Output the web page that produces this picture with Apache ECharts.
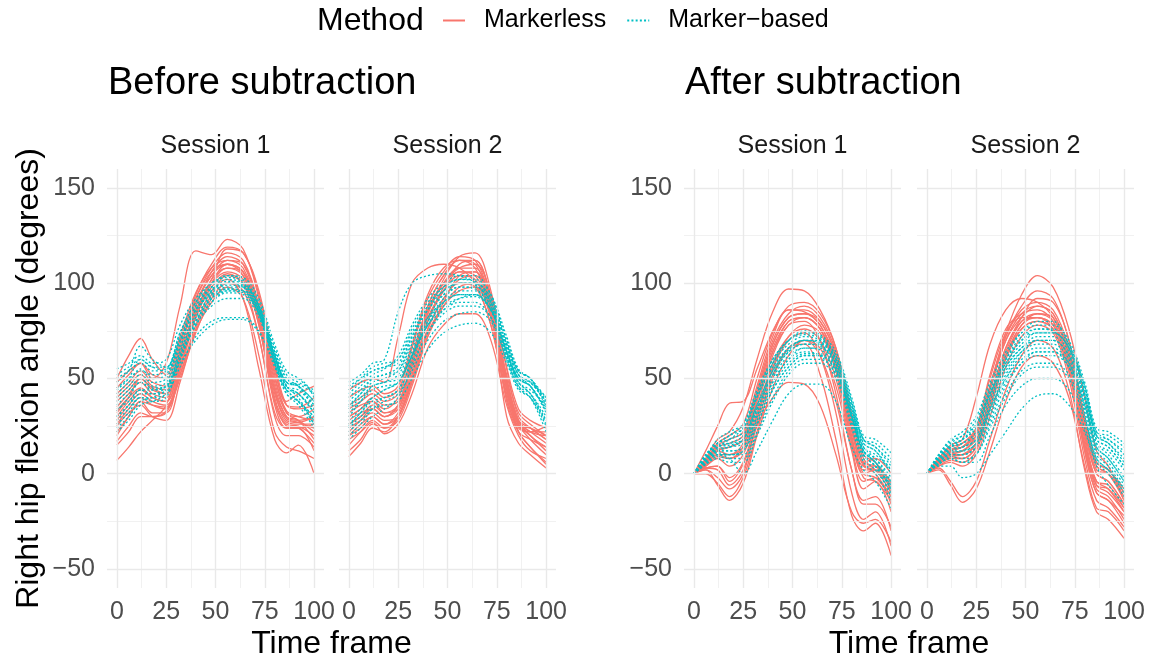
<!DOCTYPE html>
<html><head><meta charset="utf-8">
<script src="https://cdn.jsdelivr.net/npm/echarts@6/dist/echarts.min.js"></script>
<style>html,body{margin:0;padding:0;background:#fff}#c{width:1153px;height:667px}</style>
</head><body><div id="c"></div>
<script>
// ---------- data ----------
const frames = [0, 6, 12, 18, 25, 32, 40, 48, 56, 64, 72, 80, 86, 92, 100];
const xTicks = [0, 25, 50, 75, 100];
const xMinor = [12.5, 37.5, 62.5, 87.5];
const yTicks = [-50, 0, 50, 100, 150];
const yMinor = [-25, 25, 75, 125];
const blockTitles = ['Before subtraction', 'After subtraction'];
const sessions = ['Session 1', 'Session 2'];
const methods = ['Markerless', 'Marker\u2212based'];
const legendTitle = 'Method';
const xTitle = 'Time frame';
const yTitle = 'Right hip flexion angle (degrees)';

const before_s1_markerless = [
  [45, 52, 58, 50, 58, 88, 117, 115, 123, 118, 92, 52, 32, 28, 22],
  [50, 62, 71, 60, 52, 72, 95, 108, 112, 108, 84, 44, 28, 27, 30],
  [7, 14, 22, 28, 36, 60, 85, 100, 106, 102, 78, 38, 25, 24, 16],
  [20, 30, 38, 32, 32, 55, 82, 98, 105, 100, 72, 32, 24, 24, 12],
  [17, 25, 32, 30, 33, 52, 78, 96, 102, 92, 55, 18, 11, 15, 0],
  [30, 38, 44, 40, 38, 60, 88, 104, 110, 106, 82, 40, 27, 26, 26],
  [35, 42, 48, 42, 40, 64, 92, 108, 116, 112, 88, 48, 32, 30, 34],
  [28, 36, 42, 38, 36, 56, 84, 100, 108, 106, 86, 54, 38, 42, 46],
  [25, 32, 36, 30, 28, 48, 76, 94, 104, 100, 80, 44, 30, 28, 18],
  [40, 46, 52, 46, 44, 66, 90, 104, 112, 110, 88, 50, 33, 30, 28],
  [22, 30, 38, 36, 35, 52, 75, 90, 98, 92, 62, 22, 14, 12, 8],
  [32, 40, 50, 45, 42, 62, 86, 102, 118, 116, 94, 56, 36, 35, 40],
  [38, 44, 50, 44, 42, 62, 88, 106, 114, 110, 86, 46, 30, 28, 30],
  [26, 34, 40, 36, 34, 54, 82, 100, 110, 106, 80, 38, 26, 25, 20],
  [42, 48, 54, 48, 46, 68, 94, 110, 119, 116, 96, 58, 36, 34, 36],
  [15, 22, 30, 30, 32, 50, 74, 92, 100, 96, 72, 30, 20, 20, 14],
  [33, 40, 45, 40, 38, 58, 84, 102, 108, 104, 82, 42, 29, 27, 24],
  [48, 54, 58, 52, 50, 70, 92, 106, 110, 104, 78, 36, 24, 24, 26]
];
const before_s1_markerbased = [
  [55, 58, 62, 58, 60, 78, 92, 100, 104, 102, 90, 66, 52, 48, 44],
  [48, 54, 67, 60, 56, 74, 90, 98, 102, 100, 88, 64, 50, 50, 40],
  [22, 28, 36, 38, 42, 60, 78, 90, 96, 96, 86, 62, 46, 40, 26],
  [30, 36, 42, 42, 46, 64, 82, 93, 98, 98, 86, 60, 44, 38, 30],
  [38, 44, 50, 46, 48, 66, 84, 96, 101, 100, 88, 62, 46, 44, 36],
  [26, 32, 40, 40, 42, 56, 72, 80, 82, 82, 75, 56, 42, 36, 24],
  [34, 38, 44, 44, 46, 58, 70, 78, 81, 81, 74, 58, 44, 38, 28],
  [42, 48, 55, 50, 52, 70, 88, 98, 104, 103, 92, 68, 54, 50, 42],
  [28, 34, 40, 38, 40, 60, 80, 92, 97, 96, 84, 58, 42, 38, 30],
  [45, 50, 54, 52, 54, 70, 86, 95, 99, 98, 86, 62, 48, 46, 38],
  [33, 40, 48, 45, 46, 64, 82, 94, 100, 99, 88, 64, 50, 46, 34],
  [50, 54, 58, 54, 55, 72, 88, 97, 100, 98, 84, 58, 44, 42, 32],
  [40, 46, 52, 48, 50, 68, 86, 96, 100, 99, 88, 64, 50, 46, 36],
  [36, 42, 48, 44, 46, 62, 80, 92, 96, 95, 84, 60, 46, 42, 32],
  [52, 56, 60, 56, 56, 74, 90, 100, 103, 101, 88, 62, 48, 46, 38],
  [24, 30, 38, 40, 44, 60, 78, 88, 92, 92, 82, 58, 44, 38, 26],
  [44, 50, 60, 56, 54, 70, 86, 94, 97, 96, 85, 62, 48, 47, 42],
  [30, 36, 44, 42, 44, 62, 80, 90, 95, 94, 84, 60, 46, 42, 34]
];
const before_s2_markerless = [
  [9, 16, 24, 22, 30, 50, 76, 92, 100, 98, 78, 40, 22, 14, 5],
  [44, 48, 50, 48, 72, 100, 108, 110, 108, 100, 78, 40, 25, 24, 20],
  [20, 26, 30, 26, 32, 52, 80, 98, 110, 112, 92, 50, 28, 20, 14],
  [28, 32, 34, 30, 36, 56, 84, 102, 114, 116, 96, 55, 30, 24, 18],
  [15, 22, 28, 24, 28, 46, 72, 90, 104, 106, 88, 48, 26, 18, 10],
  [32, 36, 38, 34, 40, 62, 88, 104, 112, 110, 88, 44, 24, 22, 22],
  [24, 28, 32, 28, 30, 48, 74, 88, 96, 98, 82, 45, 27, 22, 16],
  [18, 22, 27, 21, 26, 42, 66, 78, 84, 84, 70, 36, 20, 12, 8],
  [36, 40, 44, 40, 44, 66, 92, 106, 114, 112, 90, 46, 25, 22, 25],
  [26, 30, 36, 32, 34, 54, 80, 96, 106, 106, 84, 30, 16, 10, 3],
  [22, 28, 34, 30, 34, 58, 86, 100, 108, 110, 94, 56, 34, 28, 24],
  [30, 34, 40, 36, 38, 58, 82, 96, 104, 102, 82, 42, 26, 20, 12],
  [34, 38, 42, 38, 42, 62, 88, 104, 112, 112, 92, 50, 28, 22, 20],
  [12, 18, 26, 24, 30, 48, 72, 88, 98, 100, 84, 44, 22, 14, 6],
  [26, 30, 34, 30, 36, 58, 84, 100, 108, 108, 88, 48, 28, 24, 18],
  [40, 44, 46, 42, 46, 68, 94, 108, 112, 108, 84, 38, 22, 18, 14],
  [20, 24, 30, 26, 30, 50, 76, 92, 102, 104, 86, 46, 26, 20, 12],
  [30, 34, 38, 32, 36, 60, 86, 100, 106, 104, 86, 52, 32, 26, 20]
];
const before_s2_markerbased = [
  [48, 52, 58, 60, 85, 100, 104, 105, 104, 100, 88, 62, 50, 48, 40],
  [40, 46, 52, 55, 62, 78, 92, 100, 104, 104, 94, 70, 54, 50, 36],
  [18, 24, 30, 34, 40, 56, 74, 86, 92, 94, 86, 64, 48, 42, 26],
  [25, 32, 38, 40, 44, 60, 78, 90, 96, 96, 86, 62, 46, 40, 28],
  [30, 38, 46, 48, 52, 66, 82, 94, 100, 100, 90, 66, 50, 46, 32],
  [22, 28, 34, 36, 38, 50, 65, 74, 78, 79, 74, 58, 44, 40, 25],
  [35, 42, 50, 52, 54, 68, 82, 90, 94, 94, 86, 66, 52, 48, 38],
  [28, 34, 40, 44, 48, 62, 78, 88, 92, 93, 86, 68, 54, 50, 35],
  [44, 50, 56, 58, 60, 74, 88, 96, 100, 99, 90, 64, 48, 44, 36],
  [32, 38, 44, 46, 48, 62, 78, 86, 90, 90, 82, 60, 46, 42, 30],
  [38, 44, 50, 52, 56, 72, 88, 98, 102, 102, 94, 72, 55, 50, 40],
  [20, 26, 34, 38, 42, 54, 70, 80, 84, 85, 80, 60, 45, 40, 22],
  [26, 32, 40, 44, 48, 62, 80, 92, 98, 98, 90, 68, 52, 46, 34],
  [36, 42, 48, 50, 54, 70, 86, 96, 100, 100, 92, 70, 54, 50, 38],
  [42, 48, 54, 56, 58, 72, 86, 94, 98, 97, 88, 64, 50, 46, 34],
  [24, 30, 36, 40, 44, 58, 74, 84, 88, 88, 82, 62, 48, 42, 28],
  [34, 40, 46, 48, 50, 64, 80, 90, 94, 94, 86, 64, 50, 46, 33],
  [46, 50, 54, 56, 60, 76, 90, 98, 102, 101, 92, 68, 52, 48, 38]
];
const after_s1_markerless = [
  [0, 8, 18, 22, 35, 60, 85, 97, 96, 86, 66, 30, 5, 0, -12],
  [0, 12, 25, 37, 38, 55, 75, 88, 90, 84, 66, 32, 10, 6, -5],
  [0, 2, -6, -14, -5, 20, 45, 62, 70, 66, 46, 12, -8, -4, -20],
  [0, 0, -5, -12, -2, 22, 50, 66, 68, 52, 18, -22, -30, -26, -43],
  [0, 5, 10, 8, 12, 35, 62, 78, 80, 70, 42, 2, -14, -12, -30],
  [0, 6, 12, 10, 14, 38, 64, 78, 82, 76, 56, 18, 0, 2, -8],
  [0, 3, 4, -4, 5, 25, 40, 48, 47, 36, 10, -20, -26, -24, -36],
  [0, 7, 15, 18, 22, 46, 72, 86, 86, 80, 62, 24, 4, 4, -10],
  [0, 4, 8, 4, 10, 32, 58, 72, 76, 70, 50, 14, -4, -2, -16],
  [0, 5, 12, 14, 18, 42, 68, 82, 84, 80, 62, 26, 6, 8, 0],
  [0, 2, -2, -8, 0, 28, 55, 70, 74, 62, 32, -10, -24, -20, -38],
  [0, 6, 14, 16, 20, 44, 70, 84, 88, 82, 64, 28, 8, 2, -6],
  [0, 6, 13, 14, 18, 42, 68, 82, 84, 78, 58, 20, 2, 2, -8],
  [0, 4, 9, 8, 14, 38, 64, 80, 82, 76, 54, 16, -2, -4, -14],
  [0, 7, 16, 20, 26, 50, 74, 86, 85, 78, 60, 24, 6, 4, -4],
  [0, 3, 4, -2, 6, 30, 56, 72, 78, 74, 54, 18, 0, -2, -12],
  [0, 5, 10, 10, 16, 40, 66, 80, 82, 76, 58, 22, 4, 2, -10],
  [0, 3, 2, -6, 2, 26, 52, 66, 70, 62, 38, 2, -16, -16, -28]
];
const after_s1_markerbased = [
  [0, 10, 16, 20, 26, 44, 60, 70, 74, 72, 62, 38, 18, 16, 8],
  [0, 8, 14, 18, 24, 40, 56, 66, 70, 70, 60, 34, 14, 10, 2],
  [0, 6, 10, 8, 0, 12, 28, 42, 47, 47, 38, 14, 2, -4, -18],
  [0, 7, 12, 12, 14, 30, 48, 60, 64, 62, 52, 26, 8, 2, -10],
  [0, 9, 18, 22, 26, 42, 58, 68, 72, 70, 60, 36, 18, 14, 4],
  [0, 5, 8, 6, 6, 20, 38, 52, 58, 58, 50, 24, 6, 0, -14],
  [0, 8, 14, 16, 20, 36, 54, 65, 70, 68, 58, 32, 14, 8, -4],
  [0, 6, 10, 10, 10, 26, 44, 56, 62, 62, 54, 30, 12, 6, -8],
  [0, 10, 16, 18, 22, 40, 58, 70, 75, 73, 64, 40, 20, 18, 11],
  [0, 7, 12, 14, 16, 32, 50, 62, 66, 66, 56, 30, 10, 4, -6],
  [0, 5, 9, 8, 8, 22, 40, 54, 60, 60, 52, 28, 10, 4, -12],
  [0, 9, 15, 16, 18, 34, 52, 64, 68, 67, 58, 34, 16, 12, 2],
  [0, 8, 13, 14, 18, 36, 54, 66, 70, 69, 60, 36, 16, 12, 0],
  [0, 6, 11, 10, 12, 28, 46, 58, 63, 63, 55, 30, 12, 6, -6],
  [0, 9, 16, 20, 24, 42, 60, 70, 73, 71, 62, 38, 18, 14, 6],
  [0, 7, 12, 12, 14, 30, 48, 60, 66, 65, 56, 30, 10, 4, -8],
  [0, 5, 10, 10, 12, 26, 44, 56, 62, 62, 54, 30, 12, 8, -2],
  [0, 8, 14, 15, 18, 34, 52, 64, 68, 68, 58, 32, 12, 6, -4]
];
const after_s2_markerless = [
  [0, 6, 12, 14, 22, 46, 74, 94, 104, 98, 76, 40, 12, 4, -14],
  [0, 8, 15, 18, 40, 68, 86, 92, 90, 82, 62, 24, 2, 0, -10],
  [0, 2, -6, -15, -8, 12, 38, 56, 62, 58, 40, 4, -18, -20, -30],
  [0, 3, -4, -12, -4, 18, 44, 62, 70, 66, 44, 2, -20, -24, -34],
  [0, 6, 10, 12, 18, 40, 64, 80, 84, 80, 58, 18, -6, -10, -20],
  [0, 5, 8, 8, 14, 36, 62, 78, 82, 78, 56, 14, -8, -12, -24],
  [0, 7, 12, 16, 22, 46, 72, 88, 96, 92, 70, 28, 4, 0, -12],
  [0, 4, 6, 4, 10, 30, 56, 72, 78, 74, 50, 8, -14, -18, -28],
  [0, 6, 10, 10, 16, 40, 66, 80, 82, 78, 60, 22, 0, -4, -16],
  [0, 8, 14, 16, 24, 52, 76, 84, 86, 80, 58, 16, -4, -6, -18],
  [0, 5, 9, 10, 16, 38, 62, 76, 80, 76, 54, 12, -10, -14, -22],
  [0, 6, 11, 12, 20, 44, 70, 82, 88, 84, 64, 26, 6, 2, -8],
  [0, 7, 12, 14, 22, 46, 72, 86, 90, 86, 66, 28, 4, 0, -14],
  [0, 5, 9, 8, 14, 36, 62, 78, 84, 82, 62, 20, -4, -8, -20],
  [0, 6, 12, 14, 20, 44, 70, 84, 88, 84, 62, 22, 0, -4, -16],
  [0, 4, 7, 6, 12, 34, 60, 76, 80, 76, 54, 12, -10, -14, -26],
  [0, 8, 13, 14, 24, 50, 74, 82, 82, 76, 54, 14, -6, -8, -18],
  [0, 6, 10, 10, 16, 40, 66, 82, 92, 90, 70, 30, 6, 2, -10]
];
const after_s2_markerbased = [
  [0, 10, 16, 20, 28, 46, 62, 74, 80, 80, 68, 46, 22, 20, 14],
  [0, 8, 14, 18, 26, 42, 58, 68, 74, 74, 66, 42, 20, 16, 8],
  [0, 4, 4, -2, 0, 10, 22, 34, 41, 42, 36, 22, 4, -6, -16],
  [0, 5, 8, 6, 6, 20, 36, 46, 50, 50, 44, 24, 6, 0, -12],
  [0, 9, 14, 16, 22, 40, 56, 66, 72, 72, 64, 42, 18, 14, 4],
  [0, 7, 12, 12, 16, 32, 50, 62, 66, 66, 58, 36, 14, 8, -4],
  [0, 6, 10, 10, 14, 30, 48, 58, 62, 62, 56, 32, 10, 4, -8],
  [0, 10, 18, 22, 30, 48, 64, 74, 78, 78, 70, 48, 24, 22, 16],
  [0, 8, 13, 14, 18, 36, 54, 64, 68, 68, 60, 38, 16, 12, 2],
  [0, 6, 11, 12, 16, 34, 50, 60, 64, 64, 56, 34, 12, 6, -6],
  [0, 5, 9, 8, 10, 26, 42, 54, 58, 58, 52, 30, 8, 2, -10],
  [0, 9, 15, 18, 24, 42, 60, 70, 76, 75, 66, 44, 20, 18, 10],
  [0, 9, 15, 18, 24, 42, 58, 70, 74, 74, 66, 44, 20, 16, 6],
  [0, 7, 12, 14, 18, 34, 52, 64, 70, 70, 62, 40, 16, 10, -2],
  [0, 8, 14, 16, 20, 38, 56, 66, 70, 70, 62, 40, 18, 14, 4],
  [0, 6, 10, 10, 14, 28, 46, 58, 64, 64, 58, 36, 14, 8, -4],
  [0, 10, 17, 20, 26, 44, 60, 72, 76, 76, 68, 46, 22, 18, 12],
  [0, 5, 8, 6, 10, 24, 40, 52, 56, 56, 50, 28, 8, 2, -8]
];

// ---------- layout / style ----------
const F = '"Liberation Sans", Arial, Helvetica, sans-serif';
const RED = '#F8766D', TEAL = '#00BFC4';
const panelData = [
  [before_s1_markerless, before_s1_markerbased],
  [before_s2_markerless, before_s2_markerbased],
  [after_s1_markerless, after_s1_markerbased],
  [after_s2_markerless, after_s2_markerbased]
];
const panelLeft = [107, 339, 684, 917];
const panelW = 217, panelTop = 169, panelH = 419;

const grids = [], xAxes = [], yAxes = [], series = [];
panelLeft.forEach((l, i) => {
  grids.push({left: l, top: panelTop, width: panelW, height: panelH, containLabel: false});
  xAxes.push({
    type: 'value', gridIndex: i, min: -5, max: 105,
    axisLine: {show: false}, axisTick: {show: false, customValues: xTicks}, splitLine: {show: false},
    axisLabel: {customValues: xTicks, fontSize: 25, color: '#4d4d4d', fontFamily: F, margin: 12}
  });
  const showY = (i === 0 || i === 2);
  const ya = {
    type: 'value', gridIndex: i, min: -60, max: 160,
    axisLine: {show: false}, axisTick: {show: false, customValues: yTicks}, splitLine: {show: false},
    axisLabel: {show: showY, customValues: yTicks, fontSize: 25, color: '#4d4d4d', fontFamily: F, margin: 12,
      formatter: v => (v < 0 ? '\u2212' + Math.abs(v) : String(v))}
  };
  if (i === 0) {
    ya.name = yTitle; ya.nameLocation = 'middle'; ya.nameRotate = 90; ya.nameGap = 62;
    ya.nameTextStyle = {fontSize: 32, color: '#000', fontFamily: F};
  }
  yAxes.push(ya);

  // panel grid lines
  const ml = [];
  xMinor.forEach(v => ml.push({xAxis: v, lineStyle: {color: '#eeeeee', width: 0.8, type: 'solid'}}));
  yMinor.forEach(v => ml.push({yAxis: v, lineStyle: {color: '#eeeeee', width: 0.8, type: 'solid'}}));
  xTicks.forEach(v => ml.push({xAxis: v, lineStyle: {color: '#e9e9e9', width: 1.4, type: 'solid'}}));
  yTicks.forEach(v => ml.push({yAxis: v, lineStyle: {color: '#e9e9e9', width: 1.4, type: 'solid'}}));
  series.push({
    type: 'line', name: 'grid' + i, data: [], xAxisIndex: i, yAxisIndex: i, silent: true, z: 1,
    markLine: {silent: true, symbol: ['none', 'none'], label: {show: false}, animation: false,
      lineStyle: {type: 'solid'}, emphasis: {disabled: true}, data: ml}
  });

  panelData[i].forEach((curves, m) => {
    curves.forEach(vals => {
      series.push({
        type: 'line', name: methods[m], xAxisIndex: i, yAxisIndex: i,
        data: frames.map((f, k) => [f, vals[k]]),
        showSymbol: false, symbol: 'none', smooth: 0.35, silent: true, z: 2 + m,
        lineStyle: m === 0 ? {color: RED, width: 1.3, type: 'solid'} : {color: TEAL, width: 1.3, type: [2, 2.2]},
        itemStyle: {color: m === 0 ? RED : TEAL},
        emphasis: {disabled: true}
      });
    });
  });
});

const graphic = [
  {type: 'text', x: 317, y: 21, style: {text: legendTitle, font: '32px ' + F, fill: '#000', verticalAlign: 'middle'}},
  {type: 'text', x: 108, y: 84, style: {text: blockTitles[0], font: '38px ' + F, fill: '#000', verticalAlign: 'middle'}},
  {type: 'text', x: 685, y: 84, style: {text: blockTitles[1], font: '38px ' + F, fill: '#000', verticalAlign: 'middle'}},
  {type: 'text', x: (107 + 556) / 2, y: 644, style: {text: xTitle, font: '32px ' + F, fill: '#000', align: 'center', verticalAlign: 'middle'}},
  {type: 'text', x: (684 + 1134) / 2, y: 644, style: {text: xTitle, font: '32px ' + F, fill: '#000', align: 'center', verticalAlign: 'middle'}}
];
panelLeft.forEach((l, i) => {
  graphic.push({type: 'text', x: l + panelW / 2, y: 146,
    style: {text: sessions[i % 2], font: '25px ' + F, fill: '#1a1a1a', align: 'center', verticalAlign: 'middle'}});
});

const chart = echarts.init(document.getElementById('c'), null, {renderer: 'canvas'});
chart.setOption({
  animation: false,
  backgroundColor: '#fff',
  textStyle: {fontFamily: F},
  grid: grids, xAxis: xAxes, yAxis: yAxes, series: series,
  legend: {
    data: methods, left: 442, top: 8, padding: 0, itemWidth: 22, itemHeight: 14, itemGap: 20,
    selectedMode: false,
    itemStyle: {opacity: 0, borderWidth: 0},
    textStyle: {fontSize: 25, color: '#000', fontFamily: F, padding: [0, 0, 0, 14]}
  },
  graphic: graphic
});
</script></body></html>
